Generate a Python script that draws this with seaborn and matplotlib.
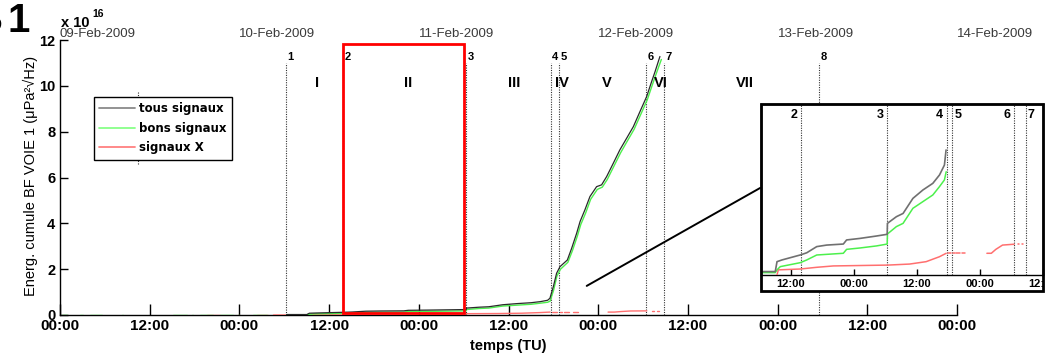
import numpy as np
import pandas as pd
import matplotlib
matplotlib.use("Agg")
import matplotlib.pyplot as plt
import seaborn as sns
from matplotlib.patches import Rectangle, ConnectionPatch
from matplotlib.lines import Line2D
from matplotlib.transforms import Bbox, TransformedBbox, blended_transform_factory

nan = np.nan

# Time in days since 09-Feb-2009 00:00 TU; energy in units of 1e16 µPa²√Hz
tous_t = [1.263, 1.376, 1.390, 1.429, 1.574, 1.626, 1.705, 1.784, 1.916, 1.942,
          2.048, 2.179, 2.264, 2.266, 2.284, 2.337, 2.390, 2.468, 2.547, 2.626,
          2.679, 2.718, 2.731, 2.750, 2.768, 2.787, 2.828, 2.852, 2.880, 2.899,
          2.926, 2.954, 2.991, 3.019, 3.047, 3.084, 3.121, 3.159, 3.196, 3.233,
          3.270, 3.298, 3.317, 3.344]
tous_v = [0.02, 0.02, 0.078, 0.088, 0.117, 0.13, 0.166, 0.175, 0.181, 0.205,
          0.214, 0.228, 0.238, 0.302, 0.312, 0.341, 0.36, 0.448, 0.497, 0.536,
          0.585, 0.643, 0.731, 1.24, 1.82, 2.11, 2.40, 2.91, 3.57, 4.08,
          4.59, 5.17, 5.60, 5.68, 6.04, 6.62, 7.21, 7.72, 8.22, 8.88,
          9.53, 10.19, 10.62, 11.28]

bons_t = [0.011, 0.039, nan, 0.111, 0.128, nan, 0.167, 0.234, nan, 0.345, 0.350, nan,
          0.630, 0.708, nan, 0.736, 0.740, nan, 0.780, 0.853, nan, 0.892, 0.964, nan,
          0.992, 0.996, nan, 1.076, 1.154, nan,
          1.263, 1.376, 1.390, 1.416, 1.574, 1.626, 1.705, 1.916, 1.942, 2.048,
          2.179, 2.264, 2.266, 2.337, 2.390, 2.468, 2.547, 2.626, 2.679, 2.718,
          2.732, 2.752, 2.770, 2.790, 2.831, 2.856, 2.884, 2.903, 2.930, 2.958,
          2.995, 3.023, 3.051, 3.088, 3.125, 3.163, 3.200, 3.237, 3.274, 3.302,
          3.322, 3.352]
bons_v = [0, 0, nan, 0, 0, nan, 0, 0, nan, 0, 0, nan,
          0, 0, nan, 0, 0, nan, 0, 0, nan, 0, 0, nan,
          0, 0, nan, 0, 0, nan,
          0.014, 0.014, 0.03, 0.049, 0.072, 0.088, 0.117, 0.127, 0.15, 0.158,
          0.17, 0.181, 0.24, 0.283, 0.302, 0.39, 0.429, 0.468, 0.517, 0.556,
          0.604, 1.10, 1.70, 2.0, 2.30, 2.80, 3.45, 3.95, 4.45, 5.05,
          5.48, 5.58, 5.92, 6.50, 7.08, 7.60, 8.10, 8.75, 9.40, 10.05,
          10.50, 11.15]

x_t = [0.82, 0.89, nan, 0.99, 1.00, nan, 1.10, 1.16, nan,
       1.19, 1.39, 1.40, 1.574, 1.705, 1.837, 2.271, 2.442, 2.573, 2.679, 2.732, nan,
       2.745, 2.770, nan, 2.785, 2.800, nan, 2.810, 2.840, nan, 2.860, 2.885, nan,
       3.055, 3.090, 3.126, 3.179, 3.271, nan, 3.300, 3.310, nan, 3.330, 3.340]
x_v = [0, 0, nan, 0, 0, nan, 0, 0, nan,
       0, 0, 0.03, 0.035, 0.045, 0.053, 0.058, 0.064, 0.078, 0.107, 0.127, nan,
       0.127, 0.127, nan, 0.127, 0.127, nan, 0.127, 0.127, nan, 0.127, 0.127, nan,
       0.127, 0.127, 0.15, 0.175, 0.18, nan, 0.18, 0.18, nan, 0.18, 0.18]

event_labels = ["1", "2", "3", "4", "5", "6", "7", "8"]
event_t = [1.26, 1.579, 2.265, 2.735, 2.780, 3.268, 3.364, 4.228]
phase_labels = ["I", "II", "III", "IV", "V", "VI", "VII"]
phase_t = [1.431, 1.940, 2.531, 2.797, 3.049, 3.350, 3.818]
date_labels = ["09-Feb-2009", "10-Feb-2009", "11-Feb-2009",
               "12-Feb-2009", "13-Feb-2009", "14-Feb-2009"]
hour_labels = ["00:00", "12:00"] * 5 + ["00:00"]
y_ticks = [0, 2, 4, 6, 8, 10, 12]
series_names = ["tous signaux", "bons signaux", "signaux X"]


def to_segments(t, v):
    df = pd.DataFrame({"t": t, "v": v})
    df["seg"] = df["t"].isna().cumsum()
    return df.dropna().reset_index(drop=True)


df_tous = to_segments(tous_t, tous_v)
df_bons = to_segments(bons_t, bons_v)
df_x = to_segments(x_t, x_v)

W, H = 1055, 357
sns.set_style("ticks", {"axes.edgecolor": "black", "xtick.color": "black",
                        "ytick.color": "black", "text.color": "black",
                        "axes.labelcolor": "black",
                        "xtick.direction": "in", "ytick.direction": "in"})
plt.rcParams["font.family"] = ["Liberation Sans", "DejaVu Sans"]

c_tous_main, c_tous_in = "#2a2a2a", "#707070"
c_bons = "#4cf04c"
c_x = "#ff6f6f"

fig = plt.figure(figsize=(W / 100, H / 100), dpi=100)

# ---------------- main panel ----------------
ax = fig.add_axes([60 / W, 1 - 315 / H, 897 / W, 275 / H], zorder=0)
ax.set_xlim(0, 5)
ax.set_ylim(0, 12)

sns.lineplot(data=df_x, x="t", y="v", units="seg", estimator=None, sort=False,
             color=c_x, lw=1.0, ax=ax, legend=False, zorder=3)
sns.lineplot(data=df_bons, x="t", y="v", units="seg", estimator=None, sort=False,
             color=c_bons, lw=1.0, ax=ax, legend=False, zorder=3)
sns.lineplot(data=df_tous, x="t", y="v", units="seg", estimator=None, sort=False,
             color=c_tous_main, lw=0.9, ax=ax, legend=False, zorder=3)

dot = (0, (1, 1.2))
ax.vlines(event_t, 0, 11.0, colors="#333333", linestyles=[dot], lw=0.8, zorder=2)
ax.vlines([0.433], 6.6, 9.75, colors="#333333", linestyles=[dot], lw=0.8, zorder=2)
for lbl, t in zip(event_labels, event_t):
    ax.annotate(lbl, (t, 11.24), xytext=(1.2, 0), textcoords="offset points",
                ha="left", va="center", fontsize=8, fontweight="bold")
for lbl, t in zip(phase_labels, phase_t):
    ax.text(t, 10.11, lbl, ha="center", va="center", fontsize=10.5, fontweight="bold")

# highlighted interval between events 2 and 3
ax.add_patch(Rectangle((1.579, 0.08), 2.252 - 1.579, 11.83 - 0.08, fill=False,
                       ec="#ff0000", lw=2.0, zorder=4, clip_on=False))

ax.spines[["top", "right"]].set_visible(False)
for s in ("left", "bottom"):
    ax.spines[s].set_linewidth(1.0)
ax.set_xticks(np.arange(0, 5.01, 0.5))
ax.set_xticklabels(hour_labels, fontsize=11, fontweight="bold")
ax.set_yticks(y_ticks)
ax.set_yticklabels([str(v) for v in y_ticks], fontsize=10.5, fontweight="bold")
ax.tick_params(axis="x", direction="in", length=8, width=1, pad=3)
ax.tick_params(axis="y", direction="in", length=6, width=1, pad=3.5)
ax.set_xlabel("")
ax.set_ylabel("")

top_tr = blended_transform_factory(ax.transData, ax.transAxes)
for k, lbl in enumerate(date_labels):
    ax.text(k, (315 - 37) / 275, lbl, transform=top_tr, ha="left", va="baseline",
            fontsize=9.5, color="#3a3a3a", clip_on=False)

handles = [Line2D([], [], color="#8a8a8a", lw=1.3),
           Line2D([], [], color="#88ff88", lw=1.3),
           Line2D([], [], color="#ff8080", lw=1.3)]
leg = ax.legend(handles, series_names, loc="upper left",
                bbox_to_anchor=((94 - 60) / 897, (315 - 97) / 275),
                borderaxespad=0, frameon=True, fancybox=False, framealpha=1,
                edgecolor="black",
                prop={"family": "DejaVu Sans", "weight": "bold", "size": 8.5},
                handlelength=3.0, handletextpad=0.4, labelspacing=0.55,
                borderpad=0.45)
leg.get_frame().set_linewidth(1.0)
leg.set_zorder(6)

fig.text(30 / W, 1 - 176 / H, "Energ. cumule BF VOIE 1 (μPa²√Hz)", rotation=90,
         ha="center", va="center", fontsize=10.5)
fig.text(508 / W, 1 - 346 / H, "temps (TU)", ha="center", va="center",
         fontsize=10.5, fontweight="bold")
fig.text(61 / W, 1 - 27 / H, "x 10", ha="left", va="baseline",
         fontsize=10.5, fontweight="bold")
fig.text(92 / W, 1 - 17 / H, "16", ha="left", va="baseline",
         fontsize=7.5, fontweight="bold")
fig.text(8 / W, 1 - 32 / H, "1", ha="left", va="baseline",
         fontsize=29, fontweight="bold")
fig.text(-27 / W, 1 - 32 / H, "B", ha="left", va="baseline",
         fontsize=29, fontweight="bold")

# ---------------- zoom inset ----------------
box = (761 / W, 1 - 291 / H, 282 / W, 187 / H)
fig.add_artist(Rectangle(box[:2], box[2], box[3], transform=fig.transFigure,
                         fc="white", ec="none", zorder=1))
ax_in = fig.add_axes([761 / W, 1 - 275 / H, 282 / W, 171 / H], zorder=2)
ax_in.set_xlim(1.263, 3.5)
ax_in.set_ylim(0, 1.0)

cut = event_t[3]
sns.lineplot(data=df_x[(df_x.t >= 1.263)], x="t", y="v", units="seg", estimator=None,
             sort=False, color=c_x, lw=1.1, ax=ax_in, legend=False, zorder=3)
sns.lineplot(data=df_bons[(df_bons.t >= 1.263) & (df_bons.t <= cut)], x="t", y="v",
             units="seg", estimator=None, sort=False, color=c_bons, lw=1.1,
             ax=ax_in, legend=False, zorder=3)
sns.lineplot(data=df_tous[df_tous.t <= cut], x="t", y="v", units="seg",
             estimator=None, sort=False, color=c_tous_in, lw=1.2, ax=ax_in,
             legend=False, zorder=3)

in_align = ["right", "right", "right", "left", "right", "left"]
in_tr = blended_transform_factory(ax_in.transData, ax_in.transAxes)
for lbl, t, ha in zip(event_labels[1:7], event_t[1:7], in_align):
    ax_in.axvline(t, color="#333333", ls=dot, lw=0.8, zorder=2)
    off = -2.5 if ha == "right" else 1.5
    ax_in.annotate(lbl, (t, 0.936), xycoords=in_tr, xytext=(off, 0),
                   textcoords="offset points", ha=ha, va="center",
                   fontsize=9, fontweight="bold")

ax_in.set_xticks([1.5, 2.0, 2.5, 3.0, 3.5])
ax_in.set_xticklabels(["12:00", "00:00", "12:00", "00:00", "12:00"],
                      fontsize=8, fontweight="bold")
ax_in.set_yticks([])
ax_in.tick_params(axis="x", direction="in", length=4, width=1, pad=3)
ax_in.set_xlabel("")
ax_in.set_ylabel("")
for s in ax_in.spines.values():
    s.set_visible(True)
    s.set_linewidth(1.0)

fig.add_artist(Rectangle(box[:2], box[2], box[3], transform=fig.transFigure,
                         fill=False, ec="black", lw=2.0, zorder=3))

con = ConnectionPatch(xyA=(2.936, 1.27), coordsA="data", axesA=ax,
                      xyB=(-0.003, 0.509), coordsB="axes fraction", axesB=ax_in,
                      color="black", lw=1.4, zorder=3)
fig.add_artist(con)

fig.canvas.draw()
clip = TransformedBbox(Bbox.from_bounds(*box), fig.transFigure)
for tick in ax_in.xaxis.get_major_ticks():
    tick.label1.set_clip_on(True)
    tick.label1.set_clip_box(clip)

fig.savefig("out.png", dpi=100)
